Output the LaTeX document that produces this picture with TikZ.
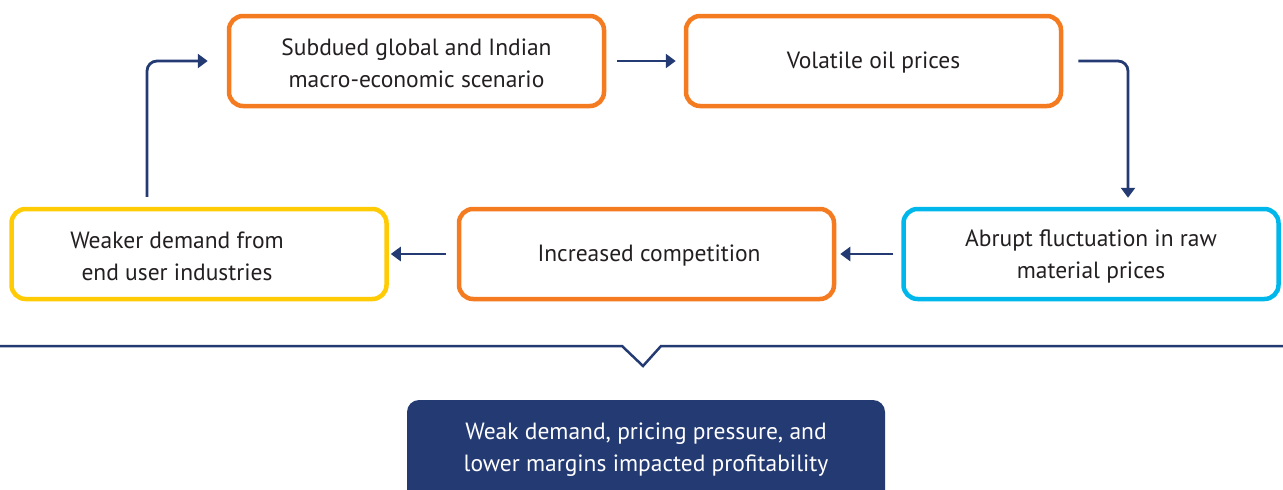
\documentclass[tikz,border=0pt]{standalone}
\usepackage{fontspec}
\setmainfont{PT Sans}
\usetikzlibrary{arrows.meta}
\definecolor{boxorange}{HTML}{F47B20}
\definecolor{boxcyan}{HTML}{00B7EB}
\definecolor{boxyellow}{HTML}{FFCB05}
\definecolor{navy}{HTML}{243A73}
\definecolor{txt}{HTML}{231F20}
\begin{document}
\begin{tikzpicture}[x=1pt,y=-1pt,
  stepbox/.style={draw=#1, line width=4.5pt, rounded corners=14pt, minimum width=375pt, minimum height=90pt, inner sep=0pt},
  lbl/.style={text=txt, align=center, font=\fontsize{23.5}{32}\selectfont},
  arr/.style={draw=navy, line width=2.8pt, -{Triangle[length=10pt,width=14pt]}},
]
\useasboundingbox (0,0) rectangle (1283,490);
\node[stepbox=boxorange] (b1) at (416.5,61) {};
\node[stepbox=boxorange] (b2) at (873.5,61) {};
\node[stepbox=boxcyan] (b3) at (1091,254) {};
\node[stepbox=boxorange] (b4) at (646.5,254) {};
\node[stepbox=boxyellow] (b5) at (199,254) {};
\node[lbl] (t1) at (416.5,63) {Subdued global and Indian\\macro-economic scenario};
\node[lbl] (t2) at (873.5,63) {Volatile oil prices};
\node[lbl] (t3) at (1091,256) {Abrupt fluctuation in raw\\material prices};
\node[lbl] (t4) at (649,256) {Increased competition};
\node[lbl] (t5) at (177,256) {Weaker demand from\\end user industries};
\draw[arr, shorten <=11pt, shorten >=8pt] (b1.east) -- (b2.west);
\draw[arr, rounded corners=10pt, shorten <=15pt, shorten >=9pt] (b2.east) -| ([xshift=37pt]b3.north);
\draw[arr, shorten <=8pt, shorten >=4pt] (b3.west) -- (b4.east);
\draw[arr, shorten <=11pt, shorten >=2pt] (b4.west) -- (b5.east);
\draw[arr, rounded corners=10pt, shorten <=10pt, shorten >=19pt] ([xshift=-52pt]b5.north) |- (b1.west);
\coordinate (lineL) at (0,346);
\coordinate (lineR) at (1283,346);
\coordinate (notch) at (643,366);
\draw[navy, line width=2.5pt] (lineL) -- (622,346) -- (notch) -- (661,346) -- (lineR);
\begin{scope}
\clip (0,0) rectangle (1283,490);
\fill[navy, rounded corners=12pt] (407,400) rectangle (885,520);
\end{scope}
\node[text=white, align=center, font=\fontsize{23.5}{32}\selectfont] (res) at (646,450) {Weak demand, pricing pressure, and\\lower margins impacted profitability};
\end{tikzpicture}
\end{document}
